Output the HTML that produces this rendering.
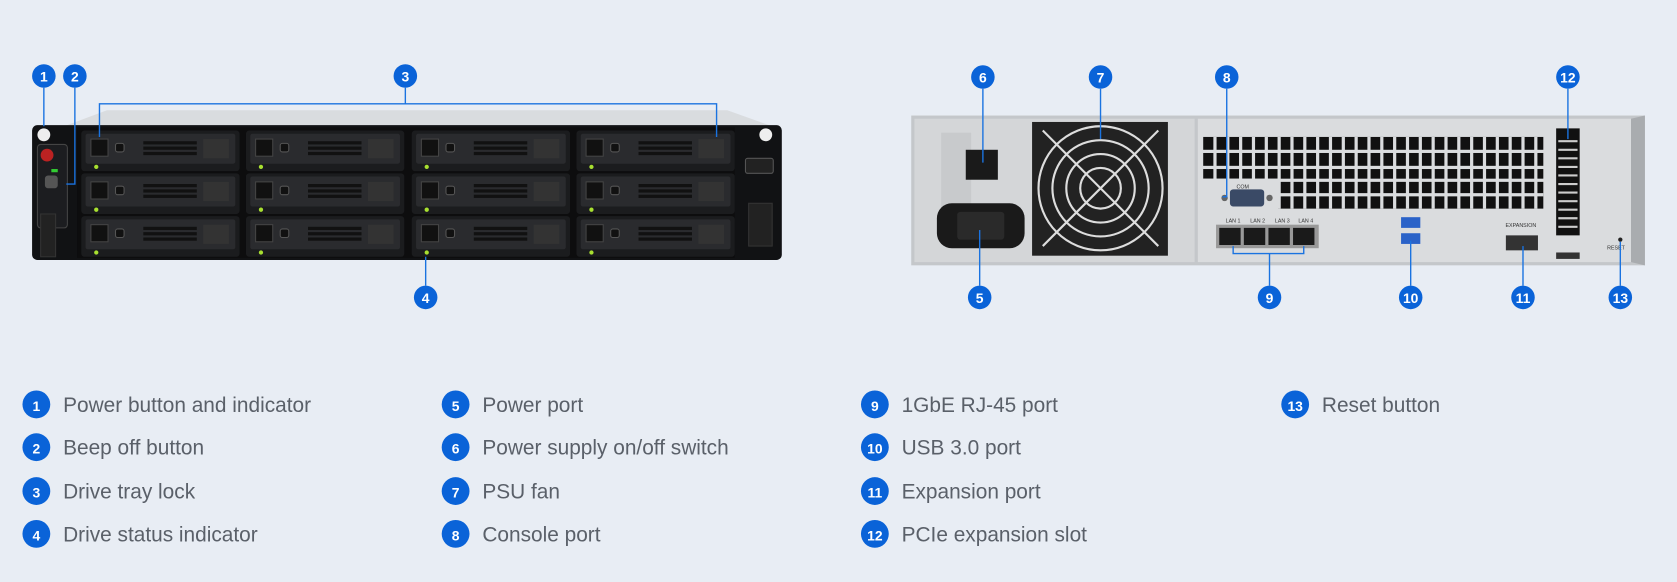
<!DOCTYPE html>
<html><head><meta charset="utf-8"><style>
html,body{margin:0;padding:0;background:#e8edf4;width:1677px;height:582px;overflow:hidden}
svg{display:block}
text{font-family:"Liberation Sans",sans-serif}
.b{fill:#0a63d8}
.bt{fill:#fff;font-size:13px;font-weight:bold;text-anchor:middle}
.lt{fill:#5a6069;font-size:19.5px}
.ln{stroke:#1a73e0;stroke-width:1.3;fill:none}
</style></head><body>
<svg width="1677" height="582" viewBox="0 0 1568 544" preserveAspectRatio="none" xmlns="http://www.w3.org/2000/svg">
<rect width="1568" height="544" fill="#e8edf4"/>
<defs>
<g id="bay">
<rect x="0" y="0" width="148" height="38" rx="3" fill="#1b1c1e"/>
<rect x="4" y="3" width="140" height="28" rx="2" fill="#2a2b2e"/>
<rect x="9" y="8" width="16" height="16" fill="#111" stroke="#444"/>
<rect x="32" y="12" width="8" height="8" rx="2" fill="#111" stroke="#555"/>
<rect x="58" y="10" width="50" height="3" fill="#111"/><rect x="58" y="15" width="50" height="3" fill="#111"/><rect x="58" y="20" width="50" height="3" fill="#111"/>
<rect x="114" y="8" width="24" height="18" fill="#333"/>
<circle cx="14" cy="34" r="2" fill="#a8e030"/>
</g>
</defs>
<!-- front unit -->
<polygon points="100,103 680,103 722,118 60,118" fill="#d9dcdf"/>
<rect x="30" y="117" width="701" height="126" rx="5" fill="#111214"/>
<rect x="72" y="119" width="615" height="122" fill="#0d0d0e"/>
<g>
<use href="#bay" x="76" y="122"/><use href="#bay" x="230" y="122"/><use href="#bay" x="385" y="122"/><use href="#bay" x="539" y="122"/>
<use href="#bay" x="76" y="162"/><use href="#bay" x="230" y="162"/><use href="#bay" x="385" y="162"/><use href="#bay" x="539" y="162"/>
<use href="#bay" x="76" y="202"/><use href="#bay" x="230" y="202"/><use href="#bay" x="385" y="202"/><use href="#bay" x="539" y="202"/>
</g>
<circle cx="41" cy="126" r="6" fill="#eee"/>
<rect x="35" y="135" width="28" height="78" rx="3" fill="#1c1d20" stroke="#444"/>
<circle cx="44" cy="145" r="6" fill="#b22"/>
<rect x="48" y="158" width="6" height="3" fill="#3c3"/>
<rect x="42" y="164" width="12" height="12" rx="3" fill="#555"/>
<rect x="38" y="200" width="14" height="40" fill="#222" stroke="#333"/>
<circle cx="716" cy="126" r="6" fill="#eee"/>
<rect x="697" y="148" width="26" height="14" rx="2" fill="#222" stroke="#555"/>
<rect x="700" y="190" width="22" height="40" fill="#222" stroke="#333"/>
<!-- front connectors -->
<path class="ln" d="M41,82 V118"/>
<path class="ln" d="M70,82 V172 H62"/>
<path class="ln" d="M379,82 V97 M93,128 V97 H670 V128"/>
<path class="ln" d="M398,240 V267"/>
<!-- back unit -->
<rect x="852" y="108" width="686" height="140" fill="#c4c7ca"/>
<rect x="855" y="111" width="262" height="134" fill="#d4d6d8"/>
<rect x="880" y="124" width="28" height="100" fill="#c8cacc"/>
<rect x="903" y="140" width="30" height="28" fill="#1a1a1a"/>
<rect x="876" y="190" width="82" height="42" rx="14" fill="#1a1a1a"/>
<rect x="895" y="198" width="44" height="26" rx="3" fill="#2a2a2a"/>
<rect x="965" y="114" width="127" height="125" fill="#222"/>
<g fill="none" stroke="#ddd" stroke-width="2">
<circle cx="1029" cy="176" r="58"/><circle cx="1029" cy="176" r="45"/><circle cx="1029" cy="176" r="32"/><circle cx="1029" cy="176" r="19"/>
<path d="M975,122 L1083,230 M1083,122 L975,230"/>
</g>
<rect x="1120" y="111" width="405" height="134" fill="#dadcde"/>
<polygon points="1525,111 1538,108 1538,248 1525,245" fill="#a9acaf"/>
<g fill="#111">
<rect x="1125" y="128" width="318" height="12"/><rect x="1125" y="143" width="318" height="12"/><rect x="1125" y="158" width="318" height="9"/><rect x="1195" y="170" width="248" height="25"/>
</g>
<g stroke="#dadcde" stroke-width="3">
<path d="M1136,128V195M1148,128V195M1160,128V195M1172,128V195M1184,128V195M1196,128V195M1208,128V195M1220,128V195M1232,128V195M1244,128V195M1256,128V195M1268,128V195M1280,128V195M1292,128V195M1304,128V195M1316,128V195M1328,128V195M1340,128V195M1352,128V195M1364,128V195M1376,128V195M1388,128V195M1400,128V195M1412,128V195M1424,128V195M1436,128V195"/>
<path d="M1125,182H1443"/>
</g>
<rect x="1125" y="167" width="70" height="28" fill="#dadcde"/>
<rect x="1150" y="177" width="32" height="16" rx="3" fill="#3a4a66"/>
<circle cx="1145" cy="185" r="3" fill="#666"/><circle cx="1187" cy="185" r="3" fill="#666"/>
<text x="1162" y="176" font-size="5" fill="#333" text-anchor="middle">COM</text>
<text x="1146" y="208" font-size="5" fill="#333">LAN 1</text><text x="1169" y="208" font-size="5" fill="#333">LAN 2</text><text x="1192" y="208" font-size="5" fill="#333">LAN 3</text><text x="1214" y="208" font-size="5" fill="#333">LAN 4</text>
<rect x="1137" y="210" width="96" height="22" fill="#999"/>
<rect x="1140" y="213" width="20" height="16" fill="#1a1a1a"/><rect x="1163" y="213" width="20" height="16" fill="#1a1a1a"/><rect x="1186" y="213" width="20" height="16" fill="#1a1a1a"/><rect x="1209" y="213" width="20" height="16" fill="#1a1a1a"/>
<rect x="1310" y="203" width="18" height="10" fill="#2a62c8"/><rect x="1310" y="218" width="18" height="10" fill="#2a62c8"/>
<text x="1422" y="212" font-size="5" fill="#333" text-anchor="middle">EXPANSION</text>
<rect x="1408" y="220" width="30" height="14" fill="#333"/>
<rect x="1455" y="120" width="22" height="100" fill="#111"/>
<g stroke="#ccc" stroke-width="2"><path d="M1457,132H1475M1457,140H1475M1457,148H1475M1457,156H1475M1457,164H1475M1457,172H1475M1457,180H1475M1457,188H1475M1457,196H1475M1457,204H1475M1457,212H1475"/></g>
<rect x="1455" y="236" width="22" height="6" fill="#333"/>
<circle cx="1515" cy="224" r="2" fill="#222"/>
<text x="1511" y="233" font-size="5" fill="#333" text-anchor="middle">RESET</text>
<!-- back connectors -->
<path class="ln" d="M919,83 V152"/>
<path class="ln" d="M1029,83 V130"/>
<path class="ln" d="M1147,83 V184 H1143"/>
<path class="ln" d="M1466,83 V130"/>
<path class="ln" d="M916,215 V267"/>
<path class="ln" d="M1153,230 V237 H1219 V230 M1187,237 V267"/>
<path class="ln" d="M1319,225 V267"/>
<path class="ln" d="M1424,230 V267"/>
<path class="ln" d="M1515,226 V267"/>
<!-- badges -->
<g>
<circle class="b" cx="41" cy="71" r="11"/><text class="bt" x="41" y="76">1</text>
<circle class="b" cx="70" cy="71" r="11"/><text class="bt" x="70" y="76">2</text>
<circle class="b" cx="379" cy="71" r="11"/><text class="bt" x="379" y="76">3</text>
<circle class="b" cx="398" cy="278" r="11"/><text class="bt" x="398" y="283">4</text>
<circle class="b" cx="916" cy="278" r="11"/><text class="bt" x="916" y="283">5</text>
<circle class="b" cx="919" cy="72" r="11"/><text class="bt" x="919" y="77">6</text>
<circle class="b" cx="1029" cy="72" r="11"/><text class="bt" x="1029" y="77">7</text>
<circle class="b" cx="1147" cy="72" r="11"/><text class="bt" x="1147" y="77">8</text>
<circle class="b" cx="1187" cy="278" r="11"/><text class="bt" x="1187" y="283">9</text>
<circle class="b" cx="1319" cy="278" r="11"/><text class="bt" x="1319" y="283">10</text>
<circle class="b" cx="1424" cy="278" r="11"/><text class="bt" x="1424" y="283">11</text>
<circle class="b" cx="1466" cy="72" r="11"/><text class="bt" x="1466" y="77">12</text>
<circle class="b" cx="1515" cy="278" r="11"/><text class="bt" x="1515" y="283">13</text>
</g>
<!-- legend -->
<g>
<circle class="b" cx="34" cy="378" r="13"/><text class="bt" x="34" y="384" font-size="15">1</text><text class="lt" x="59" y="385">Power button and indicator</text>
<circle class="b" cx="34" cy="418" r="13"/><text class="bt" x="34" y="424" font-size="15">2</text><text class="lt" x="59" y="425">Beep off button</text>
<circle class="b" cx="34" cy="459" r="13"/><text class="bt" x="34" y="465" font-size="15">3</text><text class="lt" x="59" y="466">Drive tray lock</text>
<circle class="b" cx="34" cy="499" r="13"/><text class="bt" x="34" y="505" font-size="15">4</text><text class="lt" x="59" y="506">Drive status indicator</text>
<circle class="b" cx="426" cy="378" r="13"/><text class="bt" x="426" y="384" font-size="15">5</text><text class="lt" x="451" y="385">Power port</text>
<circle class="b" cx="426" cy="418" r="13"/><text class="bt" x="426" y="424" font-size="15">6</text><text class="lt" x="451" y="425">Power supply on/off switch</text>
<circle class="b" cx="426" cy="459" r="13"/><text class="bt" x="426" y="465" font-size="15">7</text><text class="lt" x="451" y="466">PSU fan</text>
<circle class="b" cx="426" cy="499" r="13"/><text class="bt" x="426" y="505" font-size="15">8</text><text class="lt" x="451" y="506">Console port</text>
<circle class="b" cx="818" cy="378" r="13"/><text class="bt" x="818" y="384" font-size="15">9</text><text class="lt" x="843" y="385">1GbE RJ-45 port</text>
<circle class="b" cx="818" cy="418" r="13"/><text class="bt" x="818" y="424" font-size="15">10</text><text class="lt" x="843" y="425">USB 3.0 port</text>
<circle class="b" cx="818" cy="459" r="13"/><text class="bt" x="818" y="465" font-size="15">11</text><text class="lt" x="843" y="466">Expansion port</text>
<circle class="b" cx="818" cy="499" r="13"/><text class="bt" x="818" y="505" font-size="15">12</text><text class="lt" x="843" y="506">PCIe expansion slot</text>
<circle class="b" cx="1211" cy="378" r="13"/><text class="bt" x="1211" y="384" font-size="15">13</text><text class="lt" x="1236" y="385">Reset button</text>
</g>
</svg>
</body></html>
